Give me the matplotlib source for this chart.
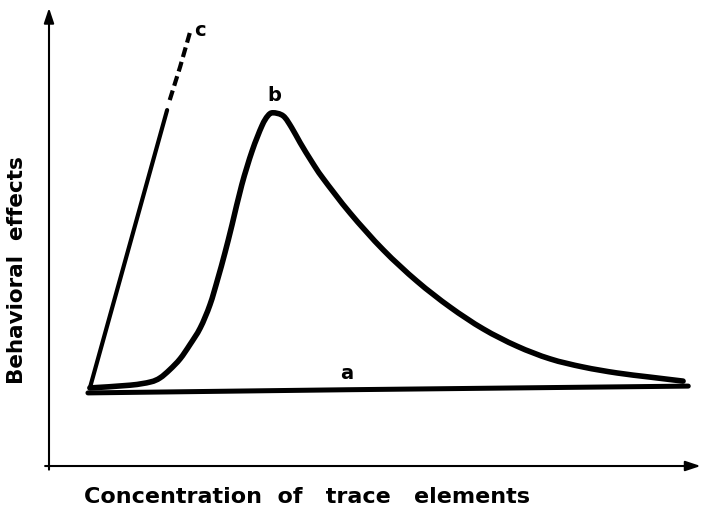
import numpy as np
import matplotlib.pyplot as plt
from matplotlib.path import Path
from matplotlib.patches import PathPatch

# curve a: almost flat baseline
a_x = [6.0, 46.0, 98.5]
a_y = [16.1, 16.8, 17.6]

# curve b: rise, peak, long decay
b_x = [6.3, 12.5, 15.6, 17.1, 18.6, 20.2, 21.7, 23.3, 24.8, 26.0, 27.1, 28.2,
       29.7, 31.3, 32.8, 33.7, 34.5, 36.1, 37.4, 38.7, 40.5, 42.2, 46.4, 51.5,
       56.7, 61.8, 66.9, 72.1, 77.2, 82.3, 87.5, 92.5, 97.7]
b_y = [17.2, 17.8, 18.5, 19.4, 21.2, 23.6, 26.7, 30.4, 35.5, 41.2, 46.9, 53.1,
       61.9, 69.4, 74.9, 77.1, 77.8, 77.1, 74.5, 71.2, 67.0, 63.4, 55.7, 47.6,
       40.7, 35.0, 30.2, 26.4, 23.6, 21.8, 20.5, 19.6, 18.7]

# curve c: steep linear rise, then extrapolated (dashed)
c_x = [6.3, 18.2]
c_y = [17.2, 78.4]
c_ext_x = [18.6, 20.2, 21.7]
c_ext_y = [80.6, 87.9, 95.4]

labels = ["a", "b", "c"]
label_pos = [(45.9, 20.3), (34.7, 81.5), (23.3, 96.0)]


def smooth_path(xs, ys):
    # catmull-rom through the points, as cubic bezier segments
    p = np.column_stack([xs, ys])
    verts = [p[0]]
    codes = [Path.MOVETO]
    for i in range(len(p) - 1):
        p0 = p[i - 1] if i > 0 else p[i]
        p3 = p[i + 2] if i + 2 < len(p) else p[i + 1]
        c1 = p[i] + (p[i + 1] - p0) / 6.0
        c2 = p[i + 1] - (p3 - p[i]) / 6.0
        verts += [c1, c2, p[i + 1]]
        codes += [Path.CURVE4] * 3
    return Path(verts, codes)


fig = plt.figure(figsize=(7.03, 5.12), dpi=100)
ax = fig.add_axes([0, 0, 1, 1])
ax.set_xlim(-7.55, 100.77)
ax.set_ylim(-10.13, 102.64)
ax.axis("off")

ax.plot(a_x, a_y, color="black", lw=3.6, solid_capstyle="round")
ax.add_patch(PathPatch(smooth_path(b_x, b_y), fill=False, edgecolor="black",
                       lw=4.0, capstyle="round", joinstyle="round"))
ax.plot(c_x, c_y, color="black", lw=3.0, solid_capstyle="round")
ax.plot(c_ext_x, c_ext_y, color="black", lw=3.0, dashes=(2.4, 1.2),
        dash_capstyle="butt")

for lab, (x, y) in zip(labels, label_pos):
    ax.text(x, y, lab, fontsize=14, fontweight="bold", ha="center", va="center")

# axes drawn as arrows
arrow = dict(arrowstyle="-|>,head_length=0.9,head_width=0.3", color="black",
             lw=1.5, shrinkA=0, shrinkB=0)
ax.annotate("", xy=(0, 100.9), xytext=(0, -0.8), arrowprops=arrow)
ax.annotate("", xy=(100.4, 0), xytext=(-0.6, 0), arrowprops=arrow)

ax.text(-4.93, 43.2, "Behavioral  effects", rotation=90, fontsize=15.5,
        fontweight="bold", ha="center", va="center")
ax.text(39.75, -6.83, "Concentration  of   trace   elements", fontsize=16,
        fontweight="bold", ha="center", va="center")

fig.savefig("out.png", dpi=100)
